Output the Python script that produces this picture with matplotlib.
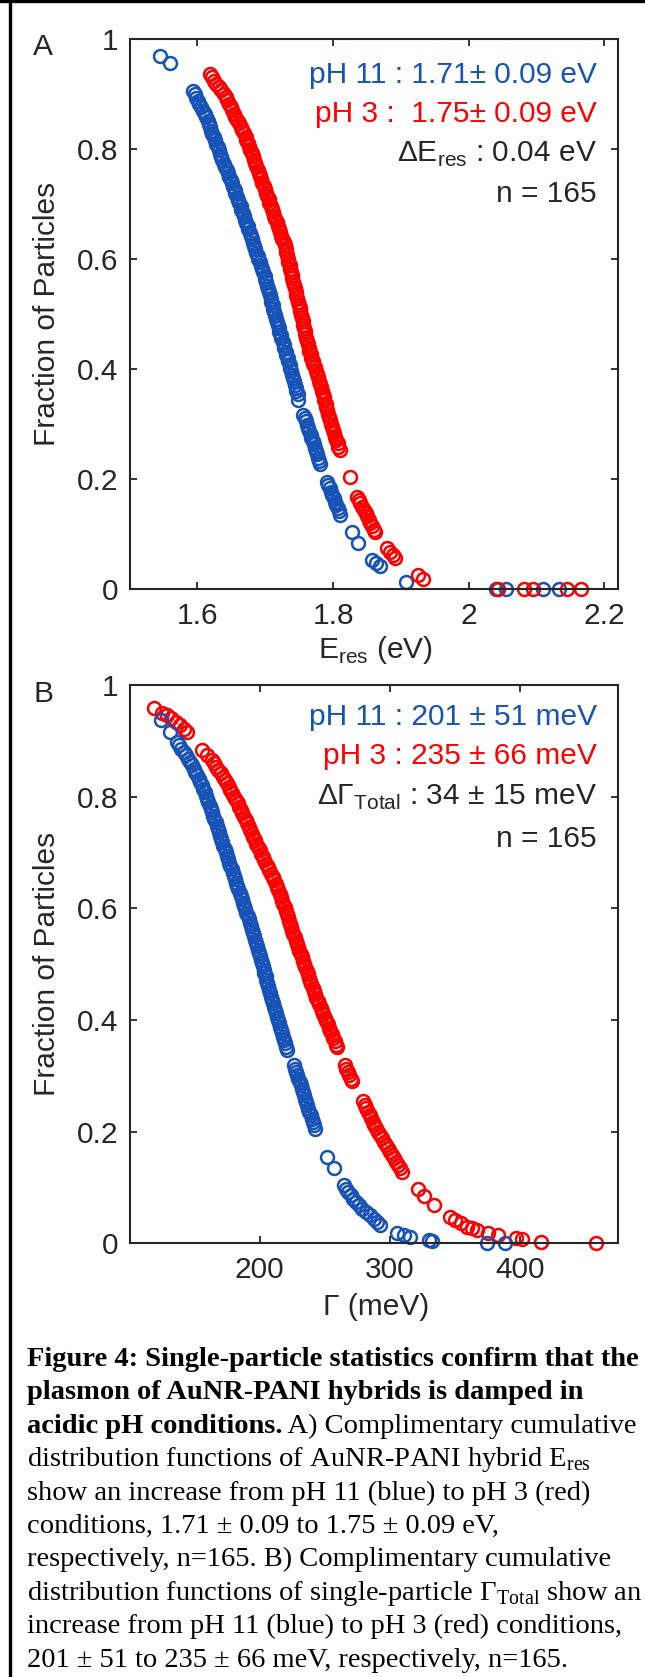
import matplotlib
matplotlib.use("Agg")
import matplotlib.pyplot as plt
from matplotlib.lines import Line2D

# ---------------- data ----------------
blueA_x = [1.545, 1.560,
           1.593, 1.596, 1.598, 1.601, 1.603, 1.606, 1.608, 1.611, 1.613, 1.615,
           1.617, 1.618, 1.620, 1.622, 1.624, 1.626, 1.628, 1.630, 1.632, 1.634,
           1.635, 1.637, 1.639, 1.641, 1.643, 1.645, 1.647, 1.649, 1.651, 1.653,
           1.655, 1.656, 1.658, 1.660, 1.662, 1.664, 1.665, 1.667, 1.669, 1.670,
           1.672, 1.674, 1.675, 1.677, 1.679, 1.680, 1.682, 1.684, 1.685, 1.687,
           1.689, 1.690, 1.692, 1.694, 1.695, 1.697, 1.699, 1.700, 1.701, 1.703,
           1.704, 1.705, 1.707, 1.708, 1.709, 1.711, 1.712, 1.713, 1.715, 1.716,
           1.717, 1.719, 1.720, 1.721, 1.723, 1.724, 1.726, 1.727, 1.728, 1.730,
           1.731, 1.733, 1.734, 1.736, 1.737, 1.738, 1.740, 1.741, 1.742, 1.744,
           1.745, 1.746, 1.748, 1.749,
           1.756, 1.758, 1.760, 1.761, 1.763, 1.765, 1.767, 1.768, 1.770, 1.772,
           1.773, 1.775, 1.776, 1.778, 1.779, 1.781,
           1.791, 1.793, 1.795, 1.797, 1.799, 1.801, 1.803, 1.805, 1.807, 1.809, 1.811,
           1.828, 1.837, 1.858, 1.864, 1.870, 1.908,
           2.040, 2.055, 2.110, 2.134]
blueA_y = [0.970, 0.957,
           0.906, 0.900, 0.894, 0.888, 0.882, 0.876, 0.870, 0.864, 0.858, 0.852,
           0.846, 0.840, 0.834, 0.828, 0.822, 0.816, 0.810, 0.804, 0.798, 0.792,
           0.786, 0.780, 0.774, 0.768, 0.762, 0.756, 0.750, 0.744, 0.738, 0.732,
           0.726, 0.720, 0.714, 0.708, 0.702, 0.696, 0.690, 0.684, 0.678, 0.672,
           0.666, 0.660, 0.654, 0.648, 0.642, 0.636, 0.630, 0.624, 0.618, 0.612,
           0.606, 0.600, 0.594, 0.588, 0.582, 0.576, 0.570, 0.564, 0.558, 0.552,
           0.546, 0.540, 0.534, 0.528, 0.522, 0.516, 0.510, 0.504, 0.498, 0.492,
           0.486, 0.480, 0.474, 0.468, 0.462, 0.456, 0.450, 0.444, 0.438, 0.432,
           0.426, 0.420, 0.414, 0.408, 0.402, 0.396, 0.390, 0.384, 0.378, 0.372,
           0.366, 0.360, 0.354, 0.344,
           0.317, 0.311, 0.305, 0.299, 0.293, 0.287, 0.281, 0.275, 0.269, 0.263,
           0.257, 0.251, 0.245, 0.239, 0.233, 0.227,
           0.195, 0.189, 0.183, 0.177, 0.171, 0.165, 0.159, 0.153, 0.147, 0.141, 0.135,
           0.104, 0.083, 0.053, 0.047, 0.041, 0.013,
           0.0, 0.0, 0.0, 0.0]

redA_x = [1.619, 1.622, 1.625, 1.628, 1.632, 1.635, 1.639,
          1.642, 1.644, 1.647, 1.649, 1.651, 1.654, 1.656, 1.659, 1.661, 1.664,
          1.666, 1.668, 1.671, 1.672, 1.674, 1.676, 1.678, 1.680, 1.682, 1.683,
          1.685, 1.687, 1.689, 1.691, 1.692, 1.694, 1.696, 1.698, 1.699, 1.701,
          1.703, 1.705, 1.706, 1.708, 1.710, 1.712, 1.713, 1.715, 1.717, 1.719,
          1.720, 1.722, 1.724, 1.725, 1.727, 1.729, 1.730, 1.731, 1.732, 1.733,
          1.734, 1.736, 1.737, 1.738, 1.739, 1.740, 1.741, 1.743, 1.744, 1.745,
          1.746, 1.747, 1.749, 1.750, 1.751, 1.752, 1.753, 1.754, 1.755, 1.756,
          1.757, 1.758, 1.759, 1.760, 1.761, 1.763, 1.764, 1.765, 1.767, 1.768,
          1.770, 1.771, 1.773, 1.775, 1.776, 1.778, 1.780, 1.781, 1.782, 1.784,
          1.785, 1.786, 1.787, 1.789, 1.790, 1.791, 1.793, 1.794, 1.796, 1.797,
          1.799, 1.800, 1.802, 1.803, 1.805, 1.807, 1.808, 1.810,
          1.825,
          1.835, 1.838, 1.840, 1.843, 1.845, 1.848, 1.850, 1.853, 1.855, 1.858, 1.860, 1.862,
          1.879, 1.884, 1.889, 1.892,
          1.925, 1.933,
          2.043, 2.082, 2.095, 2.145, 2.166]
redA_y = [0.937, 0.931, 0.925, 0.919, 0.913, 0.907, 0.901,
          0.895, 0.889, 0.883, 0.877, 0.871, 0.865, 0.859, 0.853, 0.847, 0.841,
          0.835, 0.829, 0.823, 0.817, 0.811, 0.805, 0.799, 0.793, 0.787, 0.781,
          0.775, 0.769, 0.763, 0.757, 0.751, 0.745, 0.739, 0.733, 0.727, 0.721,
          0.715, 0.709, 0.703, 0.697, 0.691, 0.685, 0.679, 0.673, 0.667, 0.661,
          0.655, 0.649, 0.643, 0.637, 0.631, 0.625, 0.619, 0.613, 0.607, 0.601,
          0.595, 0.589, 0.583, 0.577, 0.571, 0.565, 0.559, 0.553, 0.547, 0.541,
          0.535, 0.529, 0.523, 0.517, 0.511, 0.505, 0.499, 0.493, 0.487, 0.481,
          0.475, 0.469, 0.463, 0.457, 0.451, 0.445, 0.439, 0.433, 0.427, 0.421,
          0.415, 0.409, 0.403, 0.397, 0.391, 0.385, 0.379, 0.373, 0.367, 0.361,
          0.355, 0.349, 0.343, 0.337, 0.331, 0.325, 0.319, 0.313, 0.307, 0.301,
          0.295, 0.289, 0.283, 0.277, 0.271, 0.265, 0.259, 0.253,
          0.204,
          0.168, 0.162, 0.156, 0.150, 0.144, 0.138, 0.132, 0.126, 0.120, 0.114, 0.108, 0.104,
          0.074, 0.068, 0.062, 0.056,
          0.025, 0.019,
          0.0, 0.0, 0.0, 0.0, 0.0]

blueB_x = [124.5, 131.0,
           136.2, 138.0, 139.8, 141.6, 143.4, 145.2, 146.6, 147.9, 149.2, 150.5,
           151.8, 153.1, 154.4, 155.6, 156.6, 157.6, 158.6, 159.6, 160.6, 161.6,
           162.5, 163.3, 164.2, 165.1, 166.0, 166.9, 167.7, 168.6, 169.5, 170.4,
           171.3, 172.1, 173.0, 173.9, 174.8, 175.7, 176.5, 177.4, 178.3, 179.2,
           180.1, 180.9, 181.8, 182.7, 183.6, 184.5, 185.3, 186.2, 187.1, 188.0,
           188.9, 189.7, 190.6, 191.5, 192.4, 193.3, 194.0, 194.8, 195.5, 196.2,
           197.0, 197.7, 198.5, 199.2, 199.9, 200.7, 201.4, 202.2, 202.9, 203.6,
           204.4, 205.1, 205.9, 206.6, 207.3, 208.1, 208.8, 209.6, 210.3, 211.0,
           211.8, 212.5, 213.3, 214.0, 214.7, 215.5, 216.2, 217.0, 217.7, 218.4,
           219.2, 219.9, 220.7,
           225.9, 226.8, 227.7, 228.6, 229.6, 230.6, 231.5, 232.3, 233.1, 233.9,
           234.7, 235.5, 236.3, 237.2, 238.0, 239.0, 239.9, 240.8, 241.7, 242.6,
           251.8, 257.0,
           264.5, 266.0, 268.0, 270.0, 271.8, 273.8, 276.0, 278.5, 281.5, 284.5, 287.5, 290.0, 292.5,
           305.2, 310.5, 315.5, 330.0, 332.0,
           374.6, 388.4]
blueB_y = [0.937, 0.915,
           0.898, 0.892, 0.886, 0.880, 0.874, 0.868, 0.862, 0.856, 0.850, 0.844,
           0.838, 0.832, 0.826, 0.820, 0.814, 0.808, 0.802, 0.796, 0.790, 0.784,
           0.778, 0.772, 0.766, 0.760, 0.754, 0.748, 0.742, 0.736, 0.730, 0.724,
           0.718, 0.712, 0.706, 0.700, 0.694, 0.688, 0.682, 0.676, 0.670, 0.664,
           0.658, 0.652, 0.646, 0.640, 0.634, 0.628, 0.622, 0.616, 0.610, 0.604,
           0.598, 0.592, 0.586, 0.580, 0.574, 0.568, 0.562, 0.556, 0.550, 0.544,
           0.538, 0.532, 0.526, 0.520, 0.514, 0.508, 0.502, 0.496, 0.490, 0.484,
           0.478, 0.472, 0.466, 0.460, 0.454, 0.448, 0.442, 0.436, 0.430, 0.424,
           0.418, 0.412, 0.406, 0.400, 0.394, 0.388, 0.382, 0.376, 0.370, 0.364,
           0.358, 0.352, 0.346,
           0.319, 0.313, 0.307, 0.301, 0.295, 0.289, 0.283, 0.277, 0.271, 0.265,
           0.259, 0.253, 0.247, 0.241, 0.235, 0.229, 0.223, 0.217, 0.211, 0.205,
           0.155, 0.134,
           0.104, 0.098, 0.092, 0.086, 0.080, 0.074, 0.068, 0.062, 0.056, 0.050, 0.044, 0.039, 0.033,
           0.018, 0.015, 0.012, 0.006, 0.004,
           0.0, 0.0]

redB_x = [119.0, 125.0, 128.5, 132.0, 135.5, 139.0, 141.5, 143.8,
          155.4, 159.2, 163.1, 164.8, 166.5, 168.2, 169.9, 171.4, 172.9, 174.5,
          176.0, 177.5, 179.0, 180.3, 181.6, 182.9, 184.1, 185.4, 186.7, 188.0,
          189.2, 190.4, 191.6, 192.7, 193.9, 195.1, 196.3, 197.4, 198.6, 199.8,
          201.0, 202.3, 203.6, 204.8, 206.1, 207.4, 208.7, 209.9, 211.0, 212.1,
          213.2, 214.3, 215.4, 216.5, 217.3, 218.2, 219.0, 219.9, 220.7, 221.6,
          222.4, 223.3, 224.1, 225.0, 225.8, 226.7, 227.6, 228.5, 229.5, 230.4,
          231.3, 232.2, 233.2, 234.1, 235.0, 235.9, 236.8, 237.7, 238.6, 239.6,
          240.5, 241.4, 242.5, 243.5, 244.6, 245.7, 246.7, 247.8, 248.9, 249.9,
          251.0, 252.1, 253.2, 254.2, 255.3, 256.3, 257.4, 258.4, 259.1,
          265.4, 266.5, 267.6, 268.7, 269.8, 270.8,
          279.5, 280.7, 281.9, 283.1, 284.3, 285.5, 286.6, 287.9, 289.4, 290.9,
          292.5, 294.1, 295.7, 297.2, 298.7, 300.2, 301.7, 303.2, 304.7, 306.1,
          307.6, 309.0,
          321.4, 326.4, 333.5, 346.2, 350.0, 354.2, 359.0, 363.0, 366.6, 375.5,
          382.7, 396.9, 401.7, 416.0, 458.6]
redB_y = [0.959, 0.950, 0.946, 0.940, 0.934, 0.928, 0.922, 0.916,
          0.884, 0.875, 0.866, 0.860, 0.854, 0.848, 0.842, 0.836, 0.830, 0.824,
          0.818, 0.812, 0.806, 0.800, 0.794, 0.788, 0.782, 0.776, 0.770, 0.764,
          0.758, 0.752, 0.746, 0.740, 0.734, 0.728, 0.722, 0.716, 0.710, 0.704,
          0.698, 0.692, 0.686, 0.680, 0.674, 0.668, 0.662, 0.656, 0.650, 0.644,
          0.638, 0.632, 0.626, 0.620, 0.614, 0.608, 0.602, 0.596, 0.590, 0.584,
          0.578, 0.572, 0.566, 0.560, 0.554, 0.548, 0.542, 0.536, 0.530, 0.524,
          0.518, 0.512, 0.506, 0.500, 0.494, 0.488, 0.482, 0.476, 0.470, 0.464,
          0.458, 0.452, 0.446, 0.440, 0.434, 0.428, 0.422, 0.416, 0.410, 0.404,
          0.398, 0.392, 0.386, 0.380, 0.374, 0.368, 0.362, 0.356, 0.352,
          0.319, 0.313, 0.307, 0.301, 0.295, 0.290,
          0.254, 0.248, 0.242, 0.236, 0.230, 0.224, 0.218, 0.212, 0.206, 0.200,
          0.194, 0.188, 0.182, 0.176, 0.170, 0.164, 0.158, 0.152, 0.146, 0.140,
          0.134, 0.128,
          0.098, 0.084, 0.069, 0.048, 0.042, 0.036, 0.030, 0.027, 0.024, 0.018,
          0.015, 0.009, 0.007, 0.003, 0.0]

assert len(blueA_x) == len(blueA_y)
assert len(redA_x) == len(redA_y)
assert len(blueB_x) == len(blueB_y)
assert len(redB_x) == len(redB_y)

yticks = [0, 0.2, 0.4, 0.6, 0.8, 1]
yticklabels = ["0", "0.2", "0.4", "0.6", "0.8", "1"]
xticksA = [1.6, 1.8, 2.0, 2.2]
xticklabelsA = ["1.6", "1.8", "2", "2.2"]
xticksB = [200, 300, 400]
xticklabelsB = ["200", "300", "400"]

textA = ["pH 11 : 1.71\u00b1 0.09 eV", "pH 3 :  1.75\u00b1 0.09 eV",
         "\u0394E$_\\mathregular{res}$ : 0.04 eV", "n = 165"]
textB = ["pH 11 : 201 \u00b1 51 meV", "pH 3 : 235 \u00b1 66 meV",
         "\u0394\u0393$_\\mathregular{Total}$ : 34 \u00b1 15 meV", "n = 165"]

caption_bold = ["Figure 4: Single-particle statistics confirm that the",
                "plasmon of AuNR-PANI hybrids is damped in",
                "acidic pH conditions."]
caption_rest = [" A) Complimentary cumulative",
                "distribution functions of AuNR-PANI hybrid E$_\\mathregular{res}$",
                "show an increase from pH 11 (blue) to pH 3 (red)",
                "conditions, 1.71 \u00b1 0.09 to 1.75 \u00b1 0.09 eV,",
                "respectively, n=165. B) Complimentary cumulative",
                "distribution functions of single-particle \u0393$_\\mathregular{Total}$ show an",
                "increase from pH 11 (blue) to pH 3 (red) conditions,",
                "201 \u00b1 51 to 235 \u00b1 66 meV, respectively, n=165."]

# ---------------- style ----------------
W, H = 645, 1677
BLUE = "#1652B8"
RED = "#FF0000"
DARK = "#262626"
FS = 21.5
SANS = ["Liberation Sans", "DejaVu Sans"]
SERIF = ["Liberation Serif", "DejaVu Serif"]
plt.rcParams["font.family"] = SANS

fig = plt.figure(figsize=(W / 100, H / 100), dpi=100)


def fx(x):
    return x / W


def fy(y):
    return 1 - y / H


def make_axes(top, bottom):
    left, right = 129.6, 617.8
    return fig.add_axes([fx(left), fy(bottom), (right - left) / W, (bottom - top) / H])


axA = make_axes(39.3, 589.0)
axB = make_axes(685.0, 1243.3)

mk = dict(linestyle="none", marker="o", mfc="none", ms=9.3, mew=1.8, clip_on=False)
axA.plot(blueA_x, blueA_y, mec=BLUE, **mk)
axA.plot(redA_x, redA_y, mec=RED, **mk)
axB.plot(redB_x, redB_y, mec=RED, **mk)
axB.plot(blueB_x, blueB_y, mec=BLUE, **mk)

axA.set_xlim(1.5, 2.22)
axB.set_xlim(100, 475)
axA.set_xticks(xticksA)
axA.set_xticklabels(xticklabelsA)
axB.set_xticks(xticksB)
axB.set_xticklabels(xticklabelsB)

for ax in (axA, axB):
    ax.set_ylim(0, 1)
    ax.set_yticks(yticks)
    ax.set_yticklabels(yticklabels)
    ax.tick_params(direction="in", length=5, width=1.3, colors=DARK, labelcolor=DARK,
                   labelsize=FS, top=True, right=True)
    ax.tick_params(axis="y", pad=8)
    ax.tick_params(axis="x", pad=9)
    for s in ax.spines.values():
        s.set_linewidth(1.5)
        s.set_color(DARK)

# axis labels
fig.text(fx(47), fy(314), "Fraction of Particles", rotation=90, ha="center", va="center",
         fontsize=FS, color=DARK)
fig.text(fx(47), fy(964), "Fraction of Particles", rotation=90, ha="center", va="center",
         fontsize=FS, color=DARK)
fig.text(fx(376), fy(658), "E$_\\mathregular{res}$ (eV)", ha="center", va="baseline",
         fontsize=FS, color=DARK)
fig.text(fx(376), fy(1315), "\u0393 (meV)", ha="center", va="baseline",
         fontsize=FS, color=DARK)

# panel letters
fig.text(fx(33), fy(55), "A", ha="left", va="baseline", fontsize=FS, color=DARK)
fig.text(fx(33), fy(702), "B", ha="left", va="baseline", fontsize=FS, color=DARK)

# annotations
colors = [BLUE, RED, DARK, DARK]
for txt, c, yb in zip(textA, colors, [83, 122, 162, 202]):
    fig.text(fx(597), fy(yb), txt, ha="right", va="baseline", fontsize=FS, color=c)
for txt, c, yb in zip(textB, colors, [725, 764, 805, 847]):
    fig.text(fx(597), fy(yb), txt, ha="right", va="baseline", fontsize=FS, color=c)

# frame lines (top and left)
fig.add_artist(Line2D([0, 1], [fy(1.2), fy(1.2)], transform=fig.transFigure,
                      color="black", lw=2.4))
fig.add_artist(Line2D([fx(10), fx(10)], [0, 1], transform=fig.transFigure,
                      color="black", lw=2.4))

# caption
CFS = 20.5
x0 = 27
base0 = 1366
pitch = 33.4
baselines = [base0 + i * pitch for i in range(10)]
for i, t in enumerate(caption_bold):
    tb = fig.text(fx(x0), fy(baselines[i]), t, ha="left", va="baseline", fontsize=CFS,
                  family=SERIF, weight="bold", color="black")
fig.canvas.draw()
rend = fig.canvas.get_renderer()
bb = tb.get_window_extent(renderer=rend)
fig.text(bb.x1 / W, fy(baselines[2]), caption_rest[0], ha="left", va="baseline",
         fontsize=CFS, family=SERIF, color="black")
for i, t in enumerate(caption_rest[1:]):
    fig.text(fx(x0), fy(baselines[3 + i]), t, ha="left", va="baseline", fontsize=CFS,
             family=SERIF, color="black")

fig.savefig("out.png", dpi=100)
